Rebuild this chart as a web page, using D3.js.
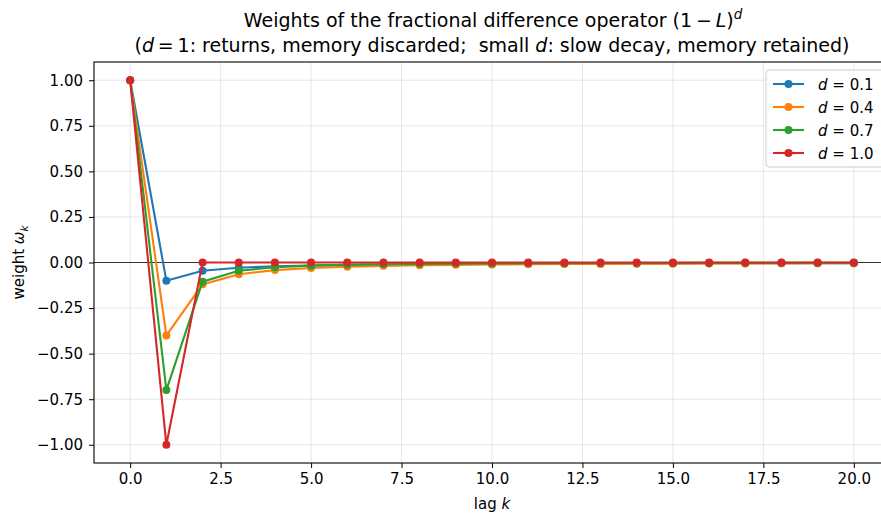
<!DOCTYPE html>
<html>
<head>
<meta charset="utf-8">
<script src="https://cdn.jsdelivr.net/npm/d3@7"></script>
<style>
  body { margin: 0; background: #fff; }
  svg, svg text { font-family: "DejaVu Sans", sans-serif; }
</style>
</head>
<body>
<div id="chart"></div>
<script>
// lags and weights
var lags = d3.range(0, 21);
var dLabels = ["0.1", "0.4", "0.7", "1.0"];
var colors = ["#1f77b4", "#ff7f0e", "#2ca02c", "#d62728"];
var w01 = [1, -0.1, -0.045, -0.0285, -0.0207, -0.0161, -0.0132, -0.0111, -0.0096, -0.0084, -0.0075,
           -0.0067, -0.0061, -0.0056, -0.0052, -0.0048, -0.0044, -0.0042, -0.0039, -0.0037, -0.0035];
var w04 = [1, -0.4, -0.12, -0.064, -0.0416, -0.0300, -0.0230, -0.0184, -0.0152, -0.0128, -0.0110,
           -0.0096, -0.0085, -0.0076, -0.0068, -0.0062, -0.0056, -0.0052, -0.0048, -0.0044, -0.0041];
var w07 = [1, -0.7, -0.105, -0.0455, -0.0262, -0.0173, -0.0124, -0.0094, -0.0074, -0.0060, -0.0050,
           -0.0042, -0.0036, -0.0031, -0.0028, -0.0024, -0.0022, -0.0020, -0.0018, -0.0016, -0.0015];
var w10 = [1, -1, 0, 0, 0, 0, 0, 0, 0, 0, 0, 0, 0, 0, 0, 0, 0, 0, 0, 0, 0];
var weights = [w01, w04, w07, w10];
var xTicks = d3.range(0, 20.1, 2.5);
var yTicks = d3.range(-1, 1.01, 0.25);

var W = 881, H = 515;
var margin = {top: 62, left: 94},
    width = 796,
    height = 401;
var fs = "15px";

var svg = d3.select("#chart").append("svg")
    .attr("width", W)
    .attr("height", H);

var g = svg.append("g")
    .attr("transform", "translate(" + margin.left + "," + margin.top + ")");

var x = d3.scaleLinear().domain([-1, 21]).range([0, width]);
var y = d3.scaleLinear().domain([-1.1, 1.1]).range([height, 0]);

// grid
g.append("g").selectAll("line").data(xTicks).enter().append("line")
    .attr("x1", d => x(d)).attr("x2", d => x(d))
    .attr("y1", 0).attr("y2", height)
    .attr("stroke", "#b0b0b0").attr("stroke-opacity", 0.3).attr("stroke-width", 1);
g.append("g").selectAll("line").data(yTicks).enter().append("line")
    .attr("x1", 0).attr("x2", width)
    .attr("y1", d => y(d)).attr("y2", d => y(d))
    .attr("stroke", "#b0b0b0").attr("stroke-opacity", 0.3).attr("stroke-width", 1);

// zero line
g.append("line")
    .attr("x1", 0).attr("x2", width)
    .attr("y1", y(0)).attr("y2", y(0))
    .attr("stroke", "#333").attr("stroke-width", 1);

// series
var line = d3.line()
    .x((d, i) => x(lags[i]))
    .y(d => y(d));

weights.forEach(function(ws, s) {
  g.append("path")
    .datum(ws)
    .attr("fill", "none")
    .attr("stroke", colors[s])
    .attr("stroke-width", 2.1)
    .attr("d", line);
  g.append("g").selectAll("circle").data(ws).enter().append("circle")
    .attr("cx", (d, i) => x(lags[i]))
    .attr("cy", d => y(d))
    .attr("r", 4)
    .attr("fill", colors[s]);
});

// axes
var xAxis = g.append("g")
    .attr("transform", "translate(0," + height + ")")
    .call(d3.axisBottom(x).tickValues(xTicks).tickFormat(d3.format(".1f")).tickSizeOuter(0).tickSize(5).tickPadding(5));
var yAxis = g.append("g")
    .call(d3.axisLeft(y).tickValues(yTicks).tickFormat(d => d3.format(".2f")(d).replace("-", "\u2212")).tickSizeOuter(0).tickSize(5).tickPadding(6));
[xAxis, yAxis].forEach(function(a) {
  a.attr("font-family", null).attr("font-size", null);
  a.selectAll("text").style("font-size", fs).attr("fill", "#000");
  a.selectAll("line").attr("stroke", "#000").attr("stroke-width", 1);
  a.select(".domain").remove();
});

// frame
g.append("rect")
    .attr("width", width).attr("height", height)
    .attr("fill", "none").attr("stroke", "#000").attr("stroke-width", 1.1);

// axis labels
svg.append("text")
    .attr("x", margin.left + x(10))
    .attr("y", 509)
    .attr("text-anchor", "middle")
    .style("font-size", fs)
    .html('lag <tspan font-style="italic">k</tspan>');

svg.append("text")
    .attr("transform", "translate(24," + (margin.top + y(0)) + ") rotate(-90)")
    .attr("text-anchor", "middle")
    .style("font-size", fs)
    .html('weight <tspan font-style="italic">ω</tspan><tspan font-style="italic" font-size="10.5px" dy="4">k</tspan>');

// title
svg.append("text")
    .attr("x", 493).attr("y", 27)
    .attr("text-anchor", "middle")
    .style("font-size", "19px")
    .html('Weights of the fractional difference operator (1\u2009\u2212\u2009<tspan font-style="italic">L</tspan>)<tspan font-style="italic" font-size="13.5px" dy="-8">d</tspan>');
svg.append("text")
    .attr("x", 492).attr("y", 52)
    .attr("text-anchor", "middle")
    .attr("xml:space", "preserve")
    .style("font-size", "19px")
    .html('(<tspan font-style="italic">d</tspan>\u2009=\u20091: returns, memory discarded;  small <tspan font-style="italic">d</tspan>: slow decay, memory retained)');

// legend
var leg = svg.append("g").attr("transform", "translate(766,70)");
leg.append("rect")
    .attr("width", 120).attr("height", 97).attr("rx", 3)
    .attr("fill", "#fff").attr("fill-opacity", 0.8)
    .attr("stroke", "#ccc").attr("stroke-width", 1);
dLabels.forEach(function(lab, i) {
  var yy = 14 + i * 23;
  leg.append("line")
    .attr("x1", 7).attr("x2", 38).attr("y1", yy).attr("y2", yy)
    .attr("stroke", colors[i]).attr("stroke-width", 2.1);
  leg.append("circle").attr("cx", 22.5).attr("cy", yy).attr("r", 4).attr("fill", colors[i]);
  leg.append("text")
    .attr("x", 52).attr("y", yy + 5.5)
    .style("font-size", fs)
    .html('<tspan font-style="italic">d</tspan> = ' + lab);
});
</script>
</body>
</html>
